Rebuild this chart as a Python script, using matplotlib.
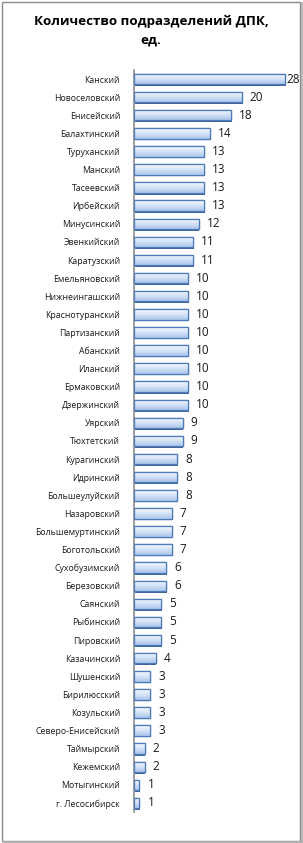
import numpy as np
import matplotlib
matplotlib.use("Agg")
import matplotlib.pyplot as plt
from matplotlib.patches import Rectangle
from matplotlib.lines import Line2D
from matplotlib.colors import LinearSegmentedColormap

plt.rcParams['font.family'] = ['Open Sans', 'DejaVu Sans']

title = "Количество подразделений ДПК,\nед."
districts = ["Канский", "Новоселовский", "Енисейский", "Балахтинский", "Туруханский",
             "Манский", "Тасеевский", "Ирбейский", "Минусинский", "Эвенкийский",
             "Каратузский", "Емельяновский", "Нижнеингашский", "Краснотуранский",
             "Партизанский", "Абанский", "Иланский", "Ермаковский", "Дзержинский",
             "Уярский", "Тюхтетский", "Курагинский", "Идринский", "Большеулуйский",
             "Назаровский", "Большемуртинский", "Боготольский", "Сухобузимский",
             "Березовский", "Саянский", "Рыбинский", "Пировский", "Казачинский",
             "Шушенский", "Бирилюсский", "Козульский", "Северо-Енисейский",
             "Таймырский", "Кежемский", "Мотыгинский", "г. Лесосибирск"]
counts = [28, 20, 18, 14, 13, 13, 13, 13, 12, 11, 11, 10, 10, 10, 10, 10, 10, 10, 10,
          9, 9, 8, 8, 8, 7, 7, 7, 6, 6, 5, 5, 5, 4, 3, 3, 3, 3, 2, 2, 1, 1]

W, H = 303, 843
fig = plt.figure(figsize=(W / 100, H / 100), dpi=100)
fig.patch.set_facecolor("white")

# outer frame with shadow on right/bottom
fig.patches.append(Rectangle((1.5 / W, 2.5 / H), (W - 4.5) / W, (H - 4.5) / H,
                             transform=fig.transFigure, fill=False,
                             edgecolor="#8c8c8c", linewidth=1.0))
fig.lines.append(Line2D([(W - 1.5) / W, (W - 1.5) / W], [1.5 / H, (H - 3) / H],
                        transform=fig.transFigure, color="#b0b0b0", linewidth=1.2))
fig.lines.append(Line2D([3 / W, (W - 1.5) / W], [1.0 / H, 1.0 / H],
                        transform=fig.transFigure, color="#b0b0b0", linewidth=1.2))

ax_left, ax_right = 134, 290
ax_top, ax_bot = 70, 812
ax = fig.add_axes([ax_left / W, 1 - ax_bot / H, (ax_right - ax_left) / W, (ax_bot - ax_top) / H])
n = len(districts)
px = (285 - 134) / max(counts)
xmax = (ax_right - ax_left) / px

y = np.arange(n)
bh = 0.58
cmap = LinearSegmentedColormap.from_list("g", ["#f4f8fd", "#d6e4f7", "#a9c5ec"])
grad = np.linspace(0, 1, 64).reshape(-1, 1)

# shadow
ax.barh(y + 0.09, counts, height=bh, left=0.12, color="#3d5f91", zorder=1)
bars = ax.barh(y, counts, height=bh, color="#c6d9f1", edgecolor="#4f7bb8",
               linewidth=0.9, zorder=2)
for b in bars:
    x0, y0 = b.get_x(), b.get_y()
    w, h = b.get_width(), b.get_height()
    im = ax.imshow(grad, cmap=cmap, aspect="auto", extent=(x0, x0 + w, y0 + h, y0),
                   zorder=2.5, interpolation="bicubic")
    im.set_clip_path(b)
    ax.add_patch(Rectangle((x0, y0), w, h, fill=False, edgecolor="#4f7bb8",
                           linewidth=0.9, zorder=3))
ax.set_xlim(0, xmax)
ax.set_ylim(n - 0.5, -0.5)

for yi, v in zip(y, counts):
    xl = v + 8 / px
    xl = min(xl, (286 - 134) / px)
    ax.text(xl, yi, str(v), va="center", ha="left", fontsize=8.5, color="#1a1a1a",
            clip_on=False)

ax.set_yticks(y)
ax.set_yticklabels(districts, fontsize=6.3, color="#1a1a1a")
ax.tick_params(axis="y", length=0, pad=10)
ax.set_xticks([])
for s in ["top", "right", "bottom"]:
    ax.spines[s].set_visible(False)
ax.spines["left"].set_color("#8c8c8c")
ax.spines["left"].set_linewidth(1.2)

fig.text(151 / W, 1 - 31 / H, title, ha="center", va="center", fontsize=9.6,
         fontweight="bold", color="black", linespacing=1.55)

fig.savefig("out.png", dpi=100)
